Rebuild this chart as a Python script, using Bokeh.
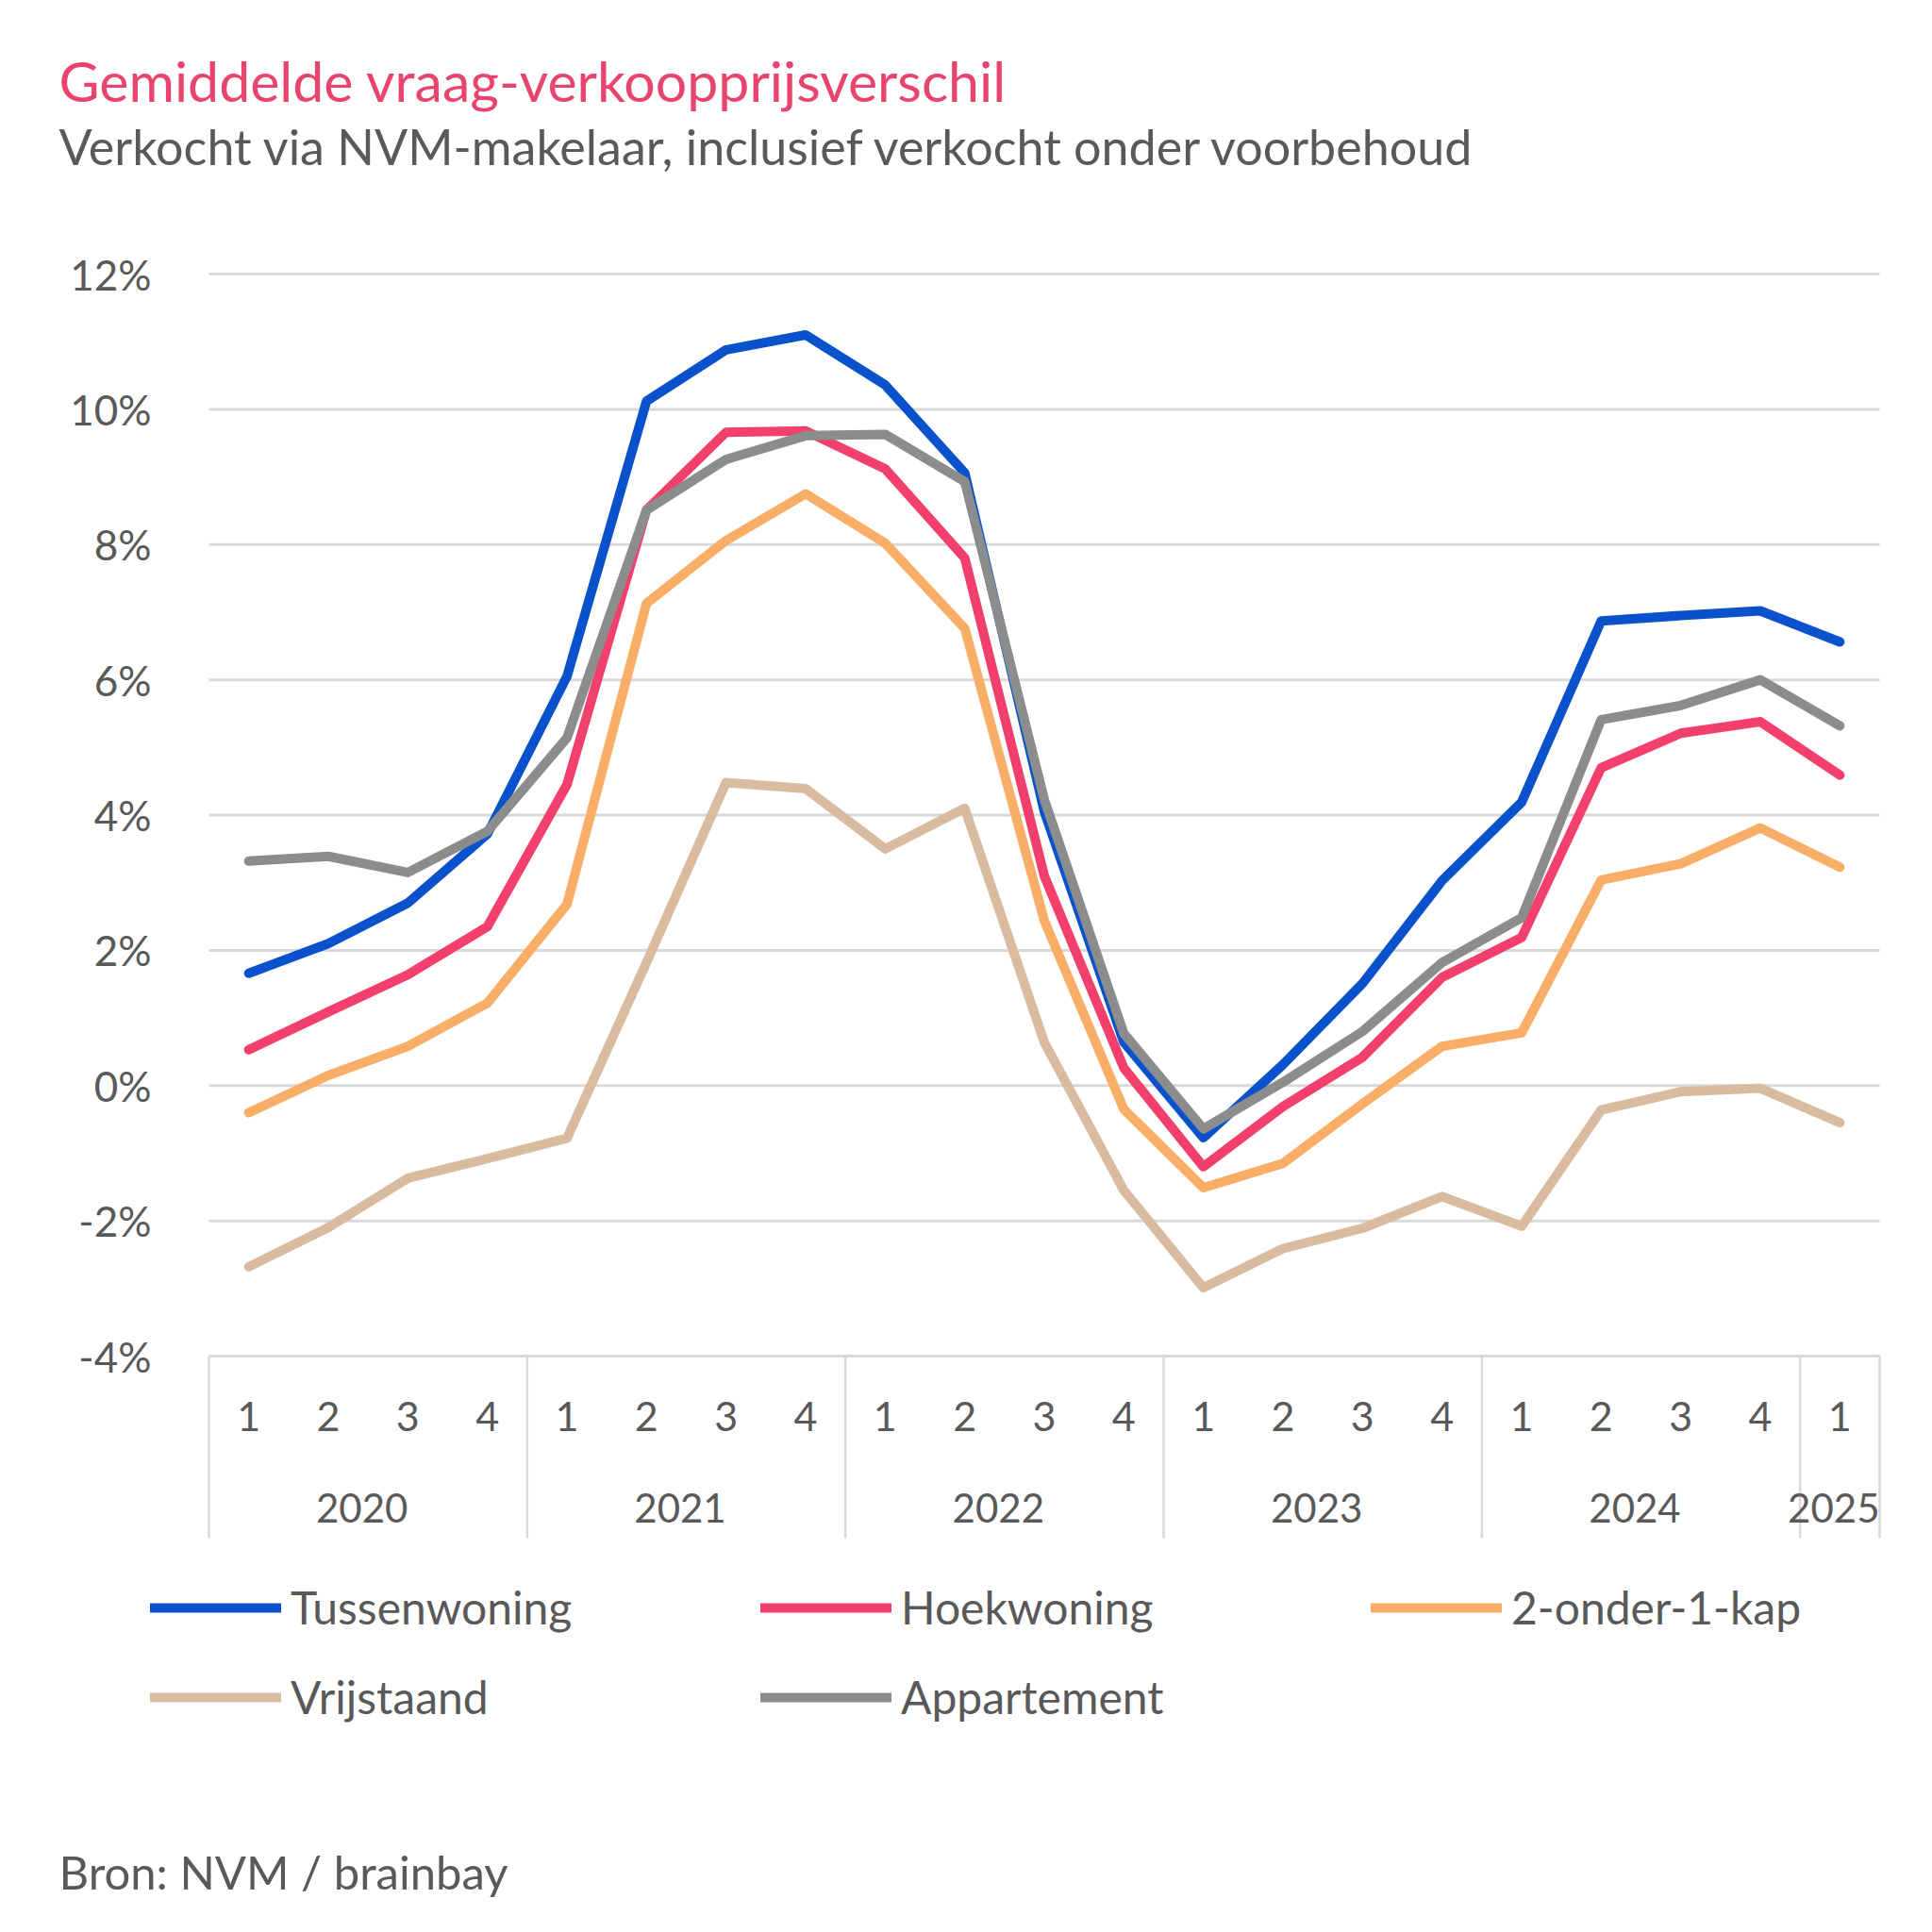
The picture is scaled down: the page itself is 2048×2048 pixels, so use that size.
from bokeh.plotting import figure
from bokeh.models import Range1d, LinearAxis, FixedTicker, Label, Legend, LegendItem
from bokeh.embed import file_html
from bokeh.resources import INLINE

# ---------------- data ----------------
years = ["2020", "2021", "2022", "2023", "2024", "2025"]
quarters_per_year = [4, 4, 4, 4, 4, 1]
quarter_labels = ["1", "2", "3", "4", "1", "2", "3", "4", "1", "2", "3", "4",
                  "1", "2", "3", "4", "1", "2", "3", "4", "1"]

tussenwoning = [1.66, 2.10, 2.70, 3.72, 6.05, 10.12, 10.88, 11.10, 10.36, 9.06, 4.05,
                0.64, -0.77, 0.31, 1.51, 3.03, 4.19, 6.87, 6.95, 7.02, 6.56]
hoekwoning = [0.53, 1.09, 1.64, 2.35, 4.45, 8.51, 9.66, 9.68, 9.12, 7.80, 3.10,
              0.26, -1.20, -0.31, 0.42, 1.60, 2.19, 4.70, 5.21, 5.38, 4.59]
twee_onder_een_kap = [-0.40, 0.15, 0.58, 1.22, 2.68, 7.13, 8.06, 8.75, 8.02, 6.76, 2.44,
                      -0.35, -1.51, -1.15, -0.27, 0.58, 0.78, 3.04, 3.28, 3.81, 3.23]
vrijstaand = [-2.68, -2.10, -1.37, -1.08, -0.78, 1.82, 4.48, 4.39, 3.50, 4.10, 0.64,
              -1.55, -2.99, -2.41, -2.11, -1.64, -2.08, -0.36, -0.09, -0.04, -0.55]
appartement = [3.32, 3.39, 3.15, 3.76, 5.14, 8.51, 9.26, 9.61, 9.63, 8.93, 4.23,
               0.77, -0.64, 0.05, 0.80, 1.82, 2.48, 5.41, 5.62, 6.00, 5.32]

series_names = ["Tussenwoning", "Hoekwoning", "2-onder-1-kap", "Vrijstaand", "Appartement"]
series_values = [tussenwoning, hoekwoning, twee_onder_een_kap, vrijstaand, appartement]
series_colors = ["#0A52CC", "#F23F6B", "#F8AE66", "#D9BCA0", "#8A8C8D"]

y_ticks = [-4, -2, 0, 2, 4, 6, 8, 10, 12]

title_text = "Gemiddelde vraag-verkoopprijsverschil"
subtitle_text = "Verkocht via NVM-makelaar, inclusief verkocht onder voorbehoud"
source_text = "Bron: NVM / brainbay"

# ---------------- layout (pixels) ----------------
W = H = 2032
PL, PR, PT, PB = 221, 1992, 290, 1437      # plotting area inside the canvas
SEP_LEN = 193                               # length of year separators below the axis
YEAR_LABEL_SHIFT = -6.5                     # year labels sit slightly left of group centre

FONT = "Lato"
TEXT = "#595959"
GRID = "#D9D9D9"

n = len(quarter_labels)
x = list(range(n))
x_lo, x_hi = -0.5, n - 0.5
y_lo, y_hi = y_ticks[0], y_ticks[-1]
ppx = (PR - PL) / (x_hi - x_lo)
ppy = (PB - PT) / (y_hi - y_lo)

p = figure(width=W, height=H, output_backend="svg", toolbar_location=None,
           x_range=Range1d(x_lo - PL / ppx, x_hi + (W - PR) / ppx),
           y_range=Range1d(y_lo - (H - PB) / ppy, y_hi + PT / ppy),
           x_axis_location=None, y_axis_location=None, min_border=0)
p.outline_line_color = None
p.background_fill_color = "white"
p.border_fill_color = "white"
p.grid.visible = False

# horizontal gridlines restricted to the plotting area
p.segment(x0=[x_lo] * len(y_ticks), x1=[x_hi] * len(y_ticks), y0=y_ticks, y1=y_ticks,
          line_color=GRID, line_width=3)

# year separators and year label positions
bounds = [x_lo]
centers = []
start = 0
for c in quarters_per_year:
    centers.append(start + (c - 1) / 2 + YEAR_LABEL_SHIFT / ppx)
    start += c
    bounds.append(start - 0.5)
p.segment(x0=bounds, x1=bounds, y0=[y_lo] * len(bounds), y1=[y_lo - SEP_LEN / ppy] * len(bounds),
          line_color=GRID, line_width=2.5)

# y axis
yaxis = LinearAxis(ticker=FixedTicker(ticks=y_ticks), fixed_location=x_lo)
yaxis.major_label_overrides = {t: f"{t}%" for t in y_ticks}
yaxis.axis_line_color = None
yaxis.major_tick_line_color = None
yaxis.minor_tick_line_color = None
yaxis.major_tick_out = 0
yaxis.major_tick_in = 0
yaxis.major_label_standoff = 61
yaxis.major_label_text_font = FONT
yaxis.major_label_text_font_size = "44px"
yaxis.major_label_text_color = TEXT
p.add_layout(yaxis, "left")

# quarter axis
qaxis = LinearAxis(ticker=FixedTicker(ticks=x), fixed_location=y_lo, bounds=(x_lo, x_hi))
qaxis.major_label_overrides = {i: q for i, q in enumerate(quarter_labels)}
qaxis.axis_line_color = GRID
qaxis.axis_line_width = 3
qaxis.major_tick_line_color = None
qaxis.minor_tick_line_color = None
qaxis.major_tick_out = 0
qaxis.major_tick_in = 0
qaxis.major_label_standoff = 48
qaxis.major_label_text_font = FONT
qaxis.major_label_text_font_size = "43px"
qaxis.major_label_text_color = TEXT
p.add_layout(qaxis, "below")

# year axis
yraxis = LinearAxis(ticker=FixedTicker(ticks=centers), fixed_location=y_lo)
yraxis.major_label_overrides = {c: yv for c, yv in zip(centers, years)}
yraxis.axis_line_color = None
yraxis.major_tick_line_color = None
yraxis.minor_tick_line_color = None
yraxis.major_tick_out = 0
yraxis.major_tick_in = 0
yraxis.major_label_standoff = 145
yraxis.major_label_text_font = FONT
yraxis.major_label_text_font_size = "42px"
yraxis.major_label_text_color = TEXT
p.add_layout(yraxis, "below")

# lines
renderers = []
for name, vals, col in zip(series_names, series_values, series_colors):
    r = p.line(x, vals, line_color=col, line_width=10, line_join="round", line_cap="round")
    renderers.append(r)

# legend (one per entry, placed as in the reference); location = bottom-left, screen px
legend_pos = [(159, 300), (806, 300), (1453, 300), (159, 205), (806, 205)]
for name, r, pos in zip(series_names, renderers, legend_pos):
    leg = Legend(items=[LegendItem(label=name, renderers=[r])], location=pos,
                 orientation="horizontal", padding=0, margin=0, spacing=0,
                 border_line_color=None, background_fill_alpha=0,
                 glyph_width=139, glyph_height=50, label_height=50, label_standoff=10,
                 label_text_font=FONT, label_text_font_size="48px",
                 label_text_color=TEXT)
    p.add_layout(leg)

# titles and source (screen px from the bottom-left)
p.add_layout(Label(x=62, y=H - 85, x_units="screen", y_units="screen", text=title_text,
                   text_font=FONT, text_font_size="59px", text_color="#E9446D",
                   text_baseline="alphabetic", text_align="left"))
p.add_layout(Label(x=62, y=H - 154, x_units="screen", y_units="screen", text=subtitle_text,
                   text_font=FONT, text_font_size="52px", text_color=TEXT,
                   text_baseline="alphabetic", text_align="left"))
p.add_layout(Label(x=62, y=H - 1983, x_units="screen", y_units="screen", text=source_text,
                   text_font=FONT, text_font_size="49px", text_color=TEXT,
                   text_baseline="alphabetic", text_align="left"))

open("out.html", "w").write(file_html(p, INLINE))
